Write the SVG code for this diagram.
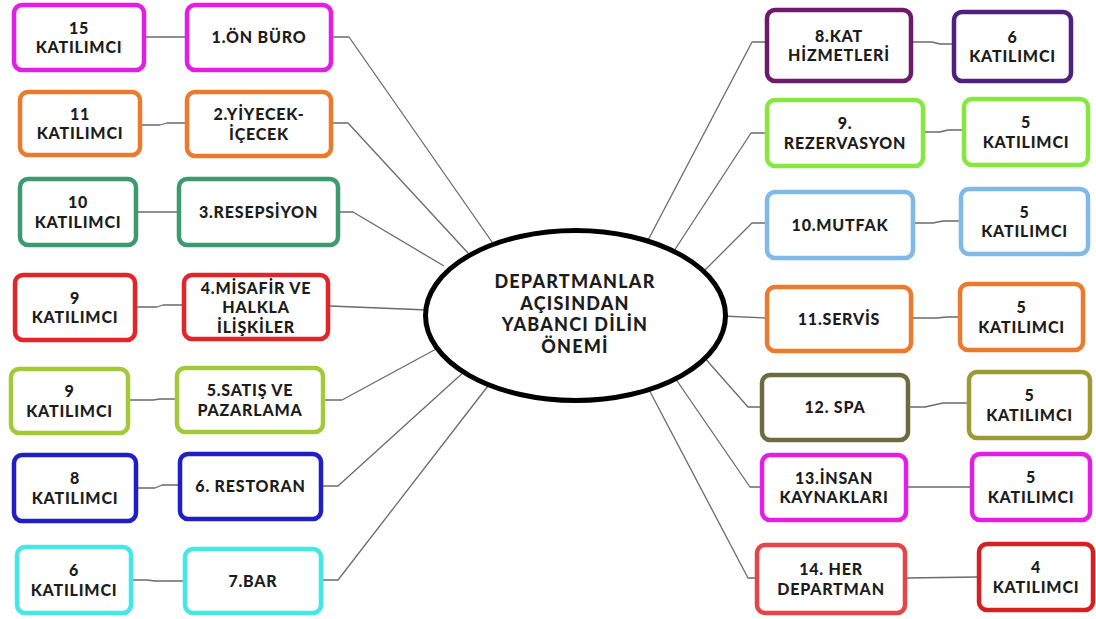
<svg xmlns="http://www.w3.org/2000/svg" width="1096" height="619" viewBox="0 0 1096 619">
  <style>
    .box { fill: #ffffff; stroke-width: 4.5; }
    .t { font-family: Lato, "Liberation Sans", sans-serif; font-weight: 900; font-size: 16px; letter-spacing: 0.8px; fill: #1c1c1c; text-anchor: middle; }
    .hub-t { font-family: Lato, "Liberation Sans", sans-serif; font-weight: 900; font-size: 18px; letter-spacing: 1.2px; fill: #1c1c1c; text-anchor: middle; }
    .link { fill: none; stroke: #6a6a6a; stroke-width: 1.3; stroke-linejoin: round; }
  </style>
  <rect width="1096" height="619" fill="#ffffff"/>

  <!-- connectors -->
  <g id="connectors">
    <!-- department to hub -->
    <path class="link" d="M333,37 H349 L492,242"/>
    <path class="link" d="M333,123 H348 L468,253"/>
    <path class="link" d="M340,212 H353 L444,266"/>
    <path class="link" d="M330,306 L428,310"/>
    <path class="link" d="M325,400 H342 L438,348"/>
    <path class="link" d="M323,486 H338 L466,370"/>
    <path class="link" d="M323,580 H338 L491,382"/>
    <path class="link" d="M765,42 H752 L646,244"/>
    <path class="link" d="M765,133 H751 L672,254"/>
    <path class="link" d="M765,223 H752 L702,273"/>
    <path class="link" d="M765,318 L722,316"/>
    <path class="link" d="M760,407 H748 L703,356"/>
    <path class="link" d="M760,487 H750 L673,375"/>
    <path class="link" d="M755,578 H748 L646,384"/>
    <!-- department to participant count -->
    <path class="link" d="M146,37 H185"/>
    <path class="link" d="M142,125 H160 L167,123 H185"/>
    <path class="link" d="M138,212 H177"/>
    <path class="link" d="M137,307 H157 L163,305 H182"/>
    <path class="link" d="M130,400 H153 L160,399 H175"/>
    <path class="link" d="M138,488 H155 L162,485 H178"/>
    <path class="link" d="M133,580 H147 L155,581 H183"/>
    <path class="link" d="M913,42 H932 L940,44 H952"/>
    <path class="link" d="M925,132 H940 L948,130 H962"/>
    <path class="link" d="M915,223 H933 L943,221 H959"/>
    <path class="link" d="M913,318 H937 L947,317 H958"/>
    <path class="link" d="M910,407 H925 L943,403 H967"/>
    <path class="link" d="M908,487 H970"/>
    <path class="link" d="M907,578 L977,577"/>
  </g>

  <!-- central hub -->
  <g id="hub">
    <ellipse cx="575.5" cy="315.5" rx="150" ry="85" fill="#ffffff" stroke="#000000" stroke-width="5"/>
    <text class="hub-t" x="575" y="288">DEPARTMANLAR</text>
    <text class="hub-t" x="575" y="309.6">AÇISINDAN</text>
    <text class="hub-t" x="575" y="331.2">YABANCI DİLİN</text>
    <text class="hub-t" x="575" y="352.8">ÖNEMİ</text>
  </g>

  <!-- left column: departments -->
  <g id="dept-1">
    <rect class="box" x="187" y="5" width="144" height="65" rx="8" stroke="#e31de3"/>
    <text class="t" x="259" y="43">1.ÖN BÜRO</text>
  </g>
  <g id="dept-2">
    <rect class="box" x="187" y="92" width="144" height="64" rx="8" stroke="#eb7a2e"/>
    <text class="t" x="259" y="120">2.YİYECEK-</text>
    <text class="t" x="259" y="139.5">İÇECEK</text>
  </g>
  <g id="dept-3">
    <rect class="box" x="179" y="179" width="159" height="66" rx="8" stroke="#3d9970"/>
    <text class="t" x="258.5" y="217.5">3.RESEPSİYON</text>
  </g>
  <g id="dept-4">
    <rect class="box" x="184" y="275" width="144" height="64" rx="8" stroke="#e3242b"/>
    <text class="t" x="256" y="293.5">4.MİSAFİR VE</text>
    <text class="t" x="256" y="313">HALKLA</text>
    <text class="t" x="256" y="332.5">İLİŞKİLER</text>
  </g>
  <g id="dept-5">
    <rect class="box" x="177" y="368" width="146" height="64" rx="8" stroke="#a3c93a"/>
    <text class="t" x="250" y="396">5.SATIŞ VE</text>
    <text class="t" x="250" y="415.5">PAZARLAMA</text>
  </g>
  <g id="dept-6">
    <rect class="box" x="180" y="454" width="141" height="65" rx="8" stroke="#1f1fc4"/>
    <text class="t" x="250.5" y="492">6. RESTORAN</text>
  </g>
  <g id="dept-7">
    <rect class="box" x="185" y="549" width="136" height="64" rx="8" stroke="#44e6e6"/>
    <text class="t" x="253" y="586.5">7.BAR</text>
  </g>

  <!-- left column: participant counts -->
  <g id="count-1">
    <rect class="box" x="14" y="5" width="130" height="65" rx="8" stroke="#e31de3"/>
    <text class="t" x="79" y="33.5">15</text>
    <text class="t" x="79" y="53">KATILIMCI</text>
  </g>
  <g id="count-2">
    <rect class="box" x="20" y="92" width="120" height="63" rx="8" stroke="#eb7a2e"/>
    <text class="t" x="80" y="119.5">11</text>
    <text class="t" x="80" y="139">KATILIMCI</text>
  </g>
  <g id="count-3">
    <rect class="box" x="20" y="179" width="116" height="66" rx="8" stroke="#3d9970"/>
    <text class="t" x="78" y="208">10</text>
    <text class="t" x="78" y="227.5">KATILIMCI</text>
  </g>
  <g id="count-4">
    <rect class="box" x="15" y="275" width="120" height="65" rx="8" stroke="#e3242b"/>
    <text class="t" x="75" y="303.5">9</text>
    <text class="t" x="75" y="323">KATILIMCI</text>
  </g>
  <g id="count-5">
    <rect class="box" x="11" y="369" width="117" height="64" rx="8" stroke="#a3c93a"/>
    <text class="t" x="69.5" y="397">9</text>
    <text class="t" x="69.5" y="416.5">KATILIMCI</text>
  </g>
  <g id="count-6">
    <rect class="box" x="14" y="455" width="122" height="66" rx="8" stroke="#1f1fc4"/>
    <text class="t" x="75" y="484">8</text>
    <text class="t" x="75" y="503.5">KATILIMCI</text>
  </g>
  <g id="count-7">
    <rect class="box" x="17" y="547" width="114" height="66" rx="8" stroke="#44e6e6"/>
    <text class="t" x="74" y="576">6</text>
    <text class="t" x="74" y="595.5">KATILIMCI</text>
  </g>

  <!-- right column: departments -->
  <g id="dept-8">
    <rect class="box" x="767" y="10" width="144" height="71" rx="8" stroke="#6e1a6a"/>
    <text class="t" x="839" y="41.5">8.KAT</text>
    <text class="t" x="839" y="61">HİZMETLERİ</text>
  </g>
  <g id="dept-9">
    <rect class="box" x="767" y="100" width="156" height="66" rx="8" stroke="#86e83c"/>
    <text class="t" x="845" y="129">9.</text>
    <text class="t" x="845" y="148.5">REZERVASYON</text>
  </g>
  <g id="dept-10">
    <rect class="box" x="767" y="192" width="146" height="66" rx="8" stroke="#80b8e8"/>
    <text class="t" x="840" y="230.5">10.MUTFAK</text>
  </g>
  <g id="dept-11">
    <rect class="box" x="767" y="287" width="144" height="64" rx="8" stroke="#eb7a2e"/>
    <text class="t" x="839" y="324.5">11.SERVİS</text>
  </g>
  <g id="dept-12">
    <rect class="box" x="762" y="375" width="146" height="65" rx="8" stroke="#6e6b40"/>
    <text class="t" x="835" y="413">12. SPA</text>
  </g>
  <g id="dept-13">
    <rect class="box" x="762" y="455" width="144" height="65" rx="8" stroke="#e31de3"/>
    <text class="t" x="834" y="483.5">13.İNSAN</text>
    <text class="t" x="834" y="503">KAYNAKLARI</text>
  </g>
  <g id="dept-14">
    <rect class="box" x="757" y="545" width="148" height="68" rx="8" stroke="#e64545"/>
    <text class="t" x="831" y="575">14. HER</text>
    <text class="t" x="831" y="594.5">DEPARTMAN</text>
  </g>

  <!-- right column: participant counts -->
  <g id="count-8">
    <rect class="box" x="954" y="12" width="117" height="69" rx="8" stroke="#4f2080"/>
    <text class="t" x="1012.5" y="42.5">6</text>
    <text class="t" x="1012.5" y="62">KATILIMCI</text>
  </g>
  <g id="count-9">
    <rect class="box" x="964" y="99" width="124" height="66" rx="8" stroke="#86e83c"/>
    <text class="t" x="1026" y="128">5</text>
    <text class="t" x="1026" y="147.5">KATILIMCI</text>
  </g>
  <g id="count-10">
    <rect class="box" x="961" y="189" width="127" height="65" rx="8" stroke="#80b8e8"/>
    <text class="t" x="1024.5" y="217.5">5</text>
    <text class="t" x="1024.5" y="237">KATILIMCI</text>
  </g>
  <g id="count-11">
    <rect class="box" x="960" y="284" width="123" height="66" rx="8" stroke="#eb7a2e"/>
    <text class="t" x="1021.5" y="313">5</text>
    <text class="t" x="1021.5" y="332.5">KATILIMCI</text>
  </g>
  <g id="count-12">
    <rect class="box" x="969" y="372" width="121" height="66" rx="8" stroke="#9c9a30"/>
    <text class="t" x="1029.5" y="401">5</text>
    <text class="t" x="1029.5" y="420.5">KATILIMCI</text>
  </g>
  <g id="count-13">
    <rect class="box" x="972" y="454" width="118" height="66" rx="8" stroke="#e31de3"/>
    <text class="t" x="1031" y="483">5</text>
    <text class="t" x="1031" y="502.5">KATILIMCI</text>
  </g>
  <g id="count-14">
    <rect class="box" x="979" y="544" width="114" height="66" rx="8" stroke="#d62020"/>
    <text class="t" x="1036" y="573">4</text>
    <text class="t" x="1036" y="592.5">KATILIMCI</text>
  </g>
</svg>
